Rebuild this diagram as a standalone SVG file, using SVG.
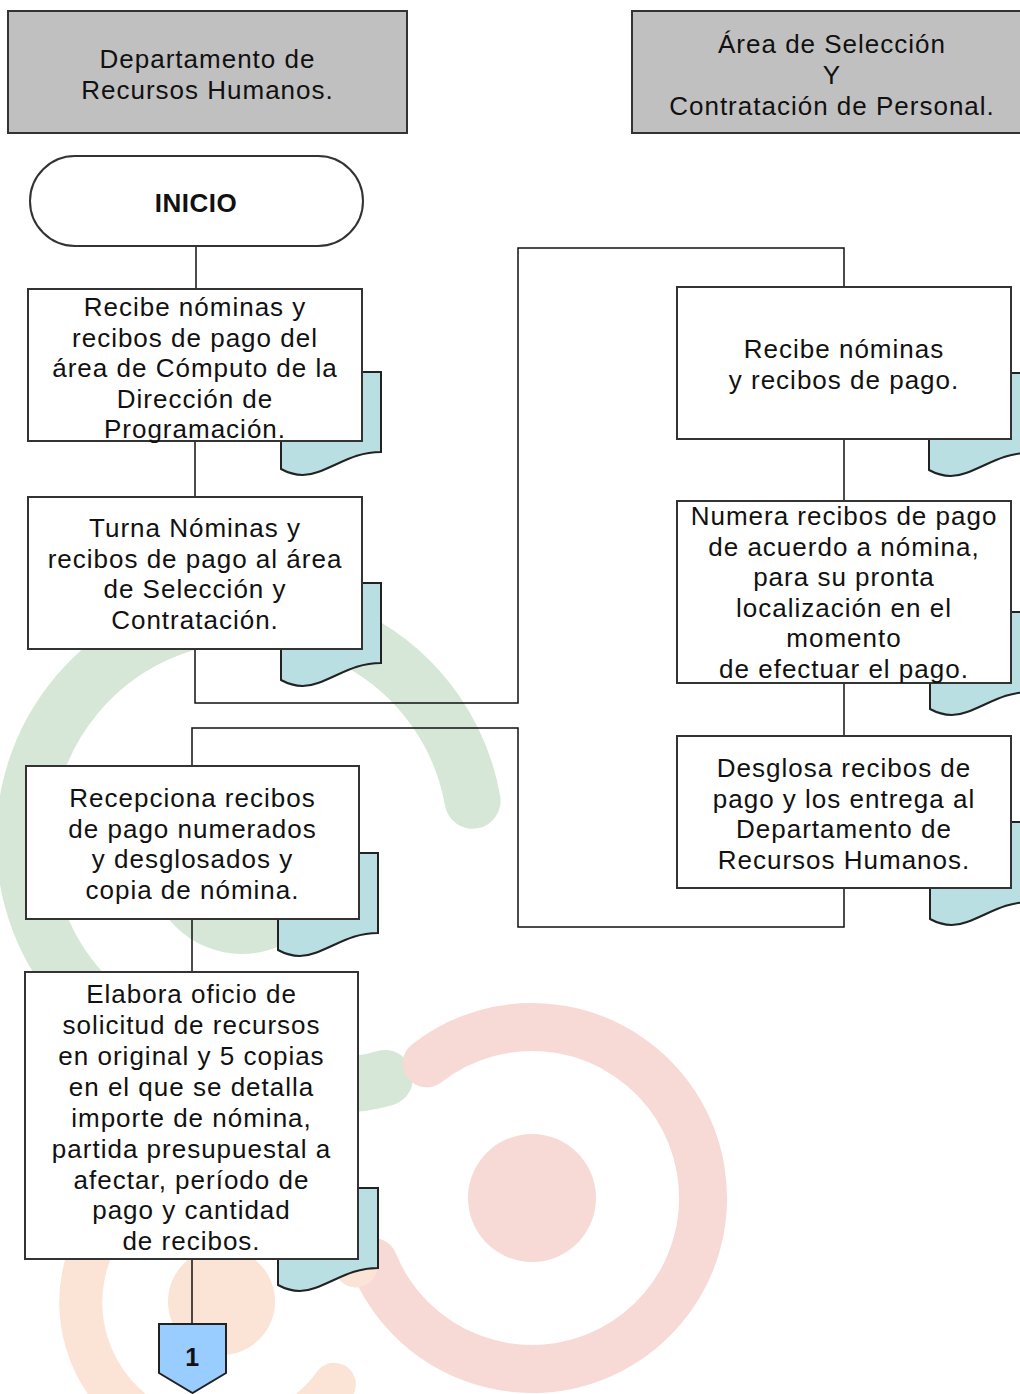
<svg xmlns="http://www.w3.org/2000/svg" width="1020" height="1394" viewBox="0 0 1020 1394">
<style>
.box{fill:#fff;stroke:#333;stroke-width:2}
.doc{fill:#b9dfe3;stroke:#222;stroke-width:2}
.hdr{fill:#c0c0c0;stroke:#333;stroke-width:2}
.t{font-family:"Liberation Sans",Arial,sans-serif;font-size:26px;letter-spacing:1px;text-anchor:middle;fill:#111}
.b{font-weight:bold;letter-spacing:0.5px}
.conn{stroke:#111;stroke-width:1.5;fill:none}
.wm{fill:none;stroke-linecap:round}
</style>
<rect width="1020" height="1394" fill="#fff"/>
<g id="watermark">
<path class="wm" d="M472.6,800.8 A226,226 0 1 0 76.9,985.3 C130,1050 300,1105 385,1078" stroke="#d6e7d7" stroke-width="56"/>
<circle cx="242" cy="860" r="94" fill="#d6e7d7"/>
<path class="wm" d="M426.7,1063.3 A171,171 0 1 1 373.5,1262.1" stroke="#f7dad5" stroke-width="48"/>
<circle cx="532" cy="1198" r="64" fill="#f7dad5"/>
<path class="wm" d="M334.3,1384.3 A140,140 0 1 1 356,1266" stroke="#fbe3d5" stroke-width="43"/>
<circle cx="221.5" cy="1301.5" r="53.5" fill="#fbe3d5"/>
</g>
<g id="connectors">
<path class="conn" d="M196,246 V289"/>
<path class="conn" d="M195,441 V497"/>
<path class="conn" d="M195,649 V703 H518 V248 H844 V287"/>
<path class="conn" d="M844,439 V501"/>
<path class="conn" d="M844,683 V736"/>
<path class="conn" d="M844,888 V927 H518 V728 H192 V766"/>
<path class="conn" d="M192,919 V972"/>
<path class="conn" d="M192,1259 V1324"/>
</g>
<g id="hdr-rh">
<rect class="hdr" x="8" y="11" width="399" height="122"/>
<text class="t"><tspan x="207.5" y="68">Departamento de</tspan><tspan x="207.5" y="99">Recursos Humanos.</tspan></text>
</g>
<g id="hdr-sel">
<rect class="hdr" x="632" y="11" width="400" height="122"/>
<text class="t"><tspan x="832" y="53">Área de Selección</tspan><tspan x="832" y="84">Y</tspan><tspan x="832" y="115">Contratación de Personal.</tspan></text>
</g>
<g id="inicio">
<rect class="box" x="30" y="156" width="333" height="90" rx="45" ry="45"/>
<text class="t b" x="196" y="212">INICIO</text>
</g>
<g id="n1">
<path class="doc" d="M281,372 H381 V452 C355,452 340,464 318,472 C305,477 292,475 281,469 Z"/>
<rect class="box" x="28" y="289" width="334" height="152"/>
<text class="t"><tspan x="195" y="316">Recibe nóminas y</tspan><tspan x="195" y="346.5">recibos de pago del</tspan><tspan x="195" y="377">área de Cómputo de la</tspan><tspan x="195" y="407.5">Dirección de</tspan><tspan x="195" y="438">Programación.</tspan></text>
</g>
<g id="n2">
<path class="doc" d="M281,583 H381 V663 C355,663 340,675 318,683 C305,688 292,686 281,680 Z"/>
<rect class="box" x="28" y="497" width="334" height="152"/>
<text class="t"><tspan x="195" y="537">Turna Nóminas y</tspan><tspan x="195" y="568">recibos de pago al área</tspan><tspan x="195" y="598">de Selección y</tspan><tspan x="195" y="629">Contratación.</tspan></text>
</g>
<g id="n3">
<path class="doc" d="M278,853 H378 V933 C352,933 337,945 315,953 C302,958 289,956 278,950 Z"/>
<rect class="box" x="26" y="766" width="333" height="153"/>
<text class="t"><tspan x="192.5" y="807">Recepciona recibos</tspan><tspan x="192.5" y="837.5">de pago numerados</tspan><tspan x="192.5" y="868">y desglosados y</tspan><tspan x="192.5" y="898.5">copia de nómina.</tspan></text>
</g>
<g id="n4">
<path class="doc" d="M278,1188 H378 V1268 C352,1268 337,1280 315,1288 C302,1293 289,1291 278,1285 Z"/>
<rect class="box" x="25" y="972" width="333" height="287"/>
<text class="t"><tspan x="191.5" y="1003">Elabora oficio de</tspan><tspan x="191.5" y="1034">solicitud de recursos</tspan><tspan x="191.5" y="1065">en original y 5 copias</tspan><tspan x="191.5" y="1096">en el que se detalla</tspan><tspan x="191.5" y="1127">importe de nómina,</tspan><tspan x="191.5" y="1157.5">partida presupuestal a</tspan><tspan x="191.5" y="1188.5">afectar, período de</tspan><tspan x="191.5" y="1219">pago y cantidad</tspan><tspan x="191.5" y="1250">de recibos.</tspan></text>
</g>
<g id="r1">
<path class="doc" d="M929,373 H1029 V453 C1003,453 988,465 966,473 C953,478 940,476 929,470 Z"/>
<rect class="box" x="677" y="287" width="334" height="152"/>
<text class="t"><tspan x="844" y="358">Recibe nóminas</tspan><tspan x="844" y="389">y recibos de pago.</tspan></text>
</g>
<g id="r2">
<path class="doc" d="M930,612 H1030 V692 C1004,692 989,704 967,712 C954,717 941,715 930,709 Z"/>
<rect class="box" x="677" y="501" width="334" height="182"/>
<text class="t"><tspan x="844" y="525">Numera recibos de pago</tspan><tspan x="844" y="555.5">de acuerdo a nómina,</tspan><tspan x="844" y="586">para su pronta</tspan><tspan x="844" y="616.5">localización en el</tspan><tspan x="844" y="647">momento</tspan><tspan x="844" y="677.5">de efectuar el pago.</tspan></text>
</g>
<g id="r3">
<path class="doc" d="M930,822 H1030 V902 C1004,902 989,914 967,922 C954,927 941,925 930,919 Z"/>
<rect class="box" x="677" y="736" width="334" height="152"/>
<text class="t"><tspan x="844" y="777">Desglosa recibos de</tspan><tspan x="844" y="807.5">pago y los entrega al</tspan><tspan x="844" y="838">Departamento de</tspan><tspan x="844" y="868.5">Recursos Humanos.</tspan></text>
</g>
<g id="offpage">
<polygon points="159,1324 226,1324 226,1373 192.5,1393 159,1373" fill="#99ccff" stroke="#222" stroke-width="2"/>
<text class="t b" x="192.5" y="1366" style="font-size:25px">1</text>
</g>
</svg>
